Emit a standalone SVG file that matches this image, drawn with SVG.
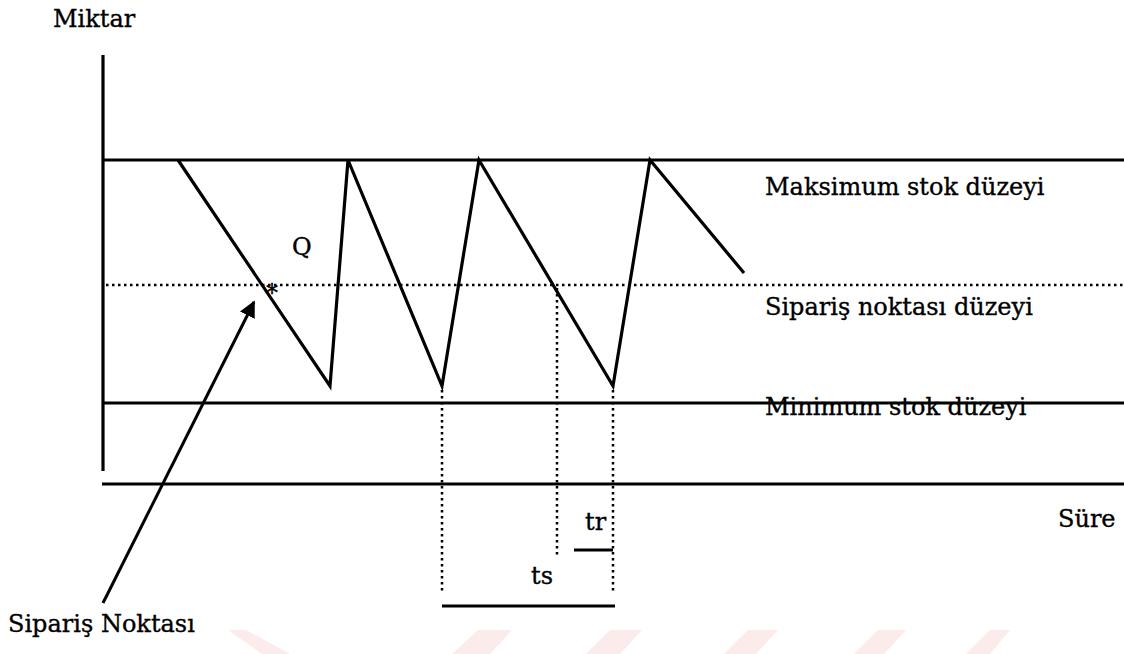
<svg xmlns="http://www.w3.org/2000/svg" width="1124" height="654" viewBox="0 0 1124 654">
<defs>
<style>
.t{font-family:"DejaVu Serif","Liberation Serif",serif;font-size:24px;fill:#000;stroke:#000;stroke-width:0.35}
.solid{stroke:#000;stroke-width:3.2;fill:none}
.dot{stroke:#000;stroke-width:2.5;fill:none;stroke-dasharray:2.5 3.5}
.wm{fill:#fcebeb;stroke:none}
</style>
<marker id="ah" viewBox="0 0 10 10" refX="9" refY="5" markerWidth="5.5" markerHeight="5.5" orient="auto" markerUnits="strokeWidth">
<path d="M0,0 L10,5 L0,10 z" fill="#000"/>
</marker>
</defs>
<rect width="1124" height="654" fill="#fff"/>
<g id="watermark">
<polygon class="wm" points="228,630 246,630 290,654 262,654"/>
<polygon class="wm" points="478,630 512,630 490,654 452,654"/>
<polygon class="wm" points="610,630 642,630 620,654 586,654"/>
<polygon class="wm" points="748,630 778,630 756,654 724,654"/>
<polygon class="wm" points="878,630 906,630 884,654 854,654"/>
<polygon class="wm" points="990,630 1010,630 990,654 966,654"/>
</g>
<g id="axes">
<line class="solid" x1="103" y1="55" x2="103" y2="471"/>
<line class="solid" x1="102" y1="484" x2="1124" y2="484"/>
</g>
<g id="levels">
<line class="solid" x1="102" y1="160" x2="1124" y2="160"/>
<line class="dot" x1="106" y1="285" x2="1124" y2="285"/>
<line class="solid" x1="102" y1="403" x2="1124" y2="403"/>
</g>
<g id="connectors">
<polyline class="solid" stroke-width="3.6" stroke-linejoin="miter" points="178,160 330,386 348,160 442,386 479,160 613,386 650,160 744,273"/>
<line class="dot" x1="442" y1="390" x2="442" y2="592"/>
<line class="dot" x1="557" y1="288" x2="557" y2="558"/>
<line class="dot" x1="613" y1="390" x2="613" y2="592"/>
<line class="solid" x1="442" y1="606" x2="615" y2="606"/>
<line class="solid" stroke-width="2.6" x1="574" y1="550" x2="613" y2="550"/>
<line stroke="#000" stroke-width="3" x1="103" y1="603" x2="254" y2="302" marker-end="url(#ah)"/>
</g>
<g id="labels">
<text class="t" x="53" y="27" font-size="25.5">Miktar</text>
<text class="t" x="765" y="195" font-size="25.5">Maksimum stok düzeyi</text>
<text class="t" x="765" y="315" font-size="25">Sipariş noktası düzeyi</text>
<text class="t" x="765" y="415" font-size="25">Minimum stok düzeyi</text>
<text class="t" x="1058" y="527">Süre</text>
<text class="t" x="8" y="632" font-size="25">Sipariş Noktası</text>
<text class="t" x="292" y="255" font-size="27">Q</text>
<text class="t" x="266" y="301" font-size="18">*</text>
<text class="t" x="531" y="584">ts</text>
<text class="t" x="585" y="530">tr</text>
</g>
</svg>
